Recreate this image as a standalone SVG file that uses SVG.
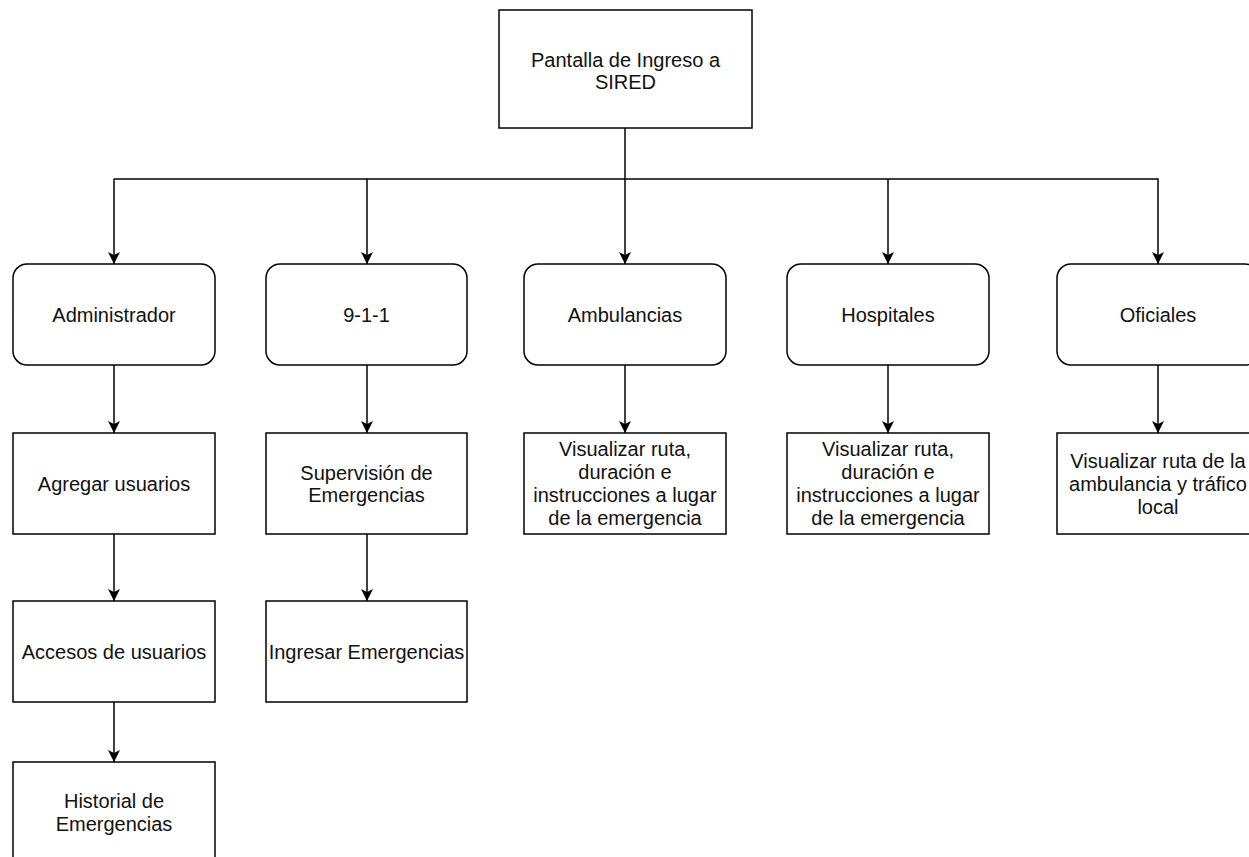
<svg xmlns="http://www.w3.org/2000/svg" width="1249" height="857" viewBox="0 0 1249 857">
<style>
.box{fill:#fff;stroke:#000;stroke-width:1.5}
.t{font-family:"Liberation Sans",Arial,sans-serif;font-size:20px;fill:#111;text-anchor:middle}
.e{fill:none;stroke:#000;stroke-width:1.5}
</style>
<defs>
<marker id="arr" viewBox="0 0 10 10" refX="10" refY="5" markerWidth="12" markerHeight="12" markerUnits="userSpaceOnUse" orient="auto">
<path d="M0,0 L10,5 L0,10 L2.5,5 z" fill="#000"/>
</marker>
</defs>
<rect width="1249" height="857" fill="#fff"/>
<g id="connectors">
<path class="e" d="M625,128 V264" marker-end="url(#arr)"/>
<path class="e" d="M114,179 H1158 V264" marker-end="url(#arr)"/>
<path class="e" d="M114,179 V264" marker-end="url(#arr)"/>
<path class="e" d="M367,179 V264" marker-end="url(#arr)"/>
<path class="e" d="M888,179 V264" marker-end="url(#arr)"/>
<path class="e" d="M114,365 V433" marker-end="url(#arr)"/>
<path class="e" d="M367,365 V433" marker-end="url(#arr)"/>
<path class="e" d="M625,365 V433" marker-end="url(#arr)"/>
<path class="e" d="M888,365 V433" marker-end="url(#arr)"/>
<path class="e" d="M1158,365 V433" marker-end="url(#arr)"/>
<path class="e" d="M114,534 V601" marker-end="url(#arr)"/>
<path class="e" d="M367,534 V601" marker-end="url(#arr)"/>
<path class="e" d="M114,702 V762" marker-end="url(#arr)"/>
</g>
<g id="n-pantalla">
<rect class="box" x="499" y="10" width="253" height="118"/>
<text class="t" x="625.5" y="66.5">Pantalla de Ingreso a</text>
<text class="t" x="625.5" y="88.5">SIRED</text>
</g>
<g id="n-admin">
<rect class="box" x="13" y="264" width="202" height="101" rx="14"/>
<text class="t" x="114" y="322">Administrador</text>
</g>
<g id="n-911">
<rect class="box" x="266" y="264" width="201" height="101" rx="14"/>
<text class="t" x="366.5" y="322">9-1-1</text>
</g>
<g id="n-ambulancias">
<rect class="box" x="524" y="264" width="202" height="101" rx="14"/>
<text class="t" x="625" y="322">Ambulancias</text>
</g>
<g id="n-hospitales">
<rect class="box" x="787" y="264" width="202" height="101" rx="14"/>
<text class="t" x="888" y="322">Hospitales</text>
</g>
<g id="n-oficiales">
<rect class="box" x="1057" y="264" width="202" height="101" rx="14"/>
<text class="t" x="1158" y="322">Oficiales</text>
</g>
<g id="n-agregar">
<rect class="box" x="13" y="433" width="202" height="101"/>
<text class="t" x="114" y="491">Agregar usuarios</text>
</g>
<g id="n-supervision">
<rect class="box" x="266" y="433" width="201" height="101"/>
<text class="t" x="366.5" y="479.5">Supervisión de</text>
<text class="t" x="366.5" y="501.5">Emergencias</text>
</g>
<g id="n-vis-amb">
<rect class="box" x="524" y="433" width="202" height="101"/>
<text class="t" x="625" y="456">Visualizar ruta,</text>
<text class="t" x="625" y="479">duración e</text>
<text class="t" x="625" y="502">instrucciones a lugar</text>
<text class="t" x="625" y="525">de la emergencia</text>
</g>
<g id="n-vis-hosp">
<rect class="box" x="787" y="433" width="202" height="101"/>
<text class="t" x="888" y="456">Visualizar ruta,</text>
<text class="t" x="888" y="479">duración e</text>
<text class="t" x="888" y="502">instrucciones a lugar</text>
<text class="t" x="888" y="525">de la emergencia</text>
</g>
<g id="n-vis-of">
<rect class="box" x="1057" y="433" width="202" height="101"/>
<text class="t" x="1158" y="468">Visualizar ruta de la</text>
<text class="t" x="1158" y="491">ambulancia y tráfico</text>
<text class="t" x="1158" y="514">local</text>
</g>
<g id="n-accesos">
<rect class="box" x="13" y="601" width="202" height="101"/>
<text class="t" x="114" y="659">Accesos de usuarios</text>
</g>
<g id="n-ingresar">
<rect class="box" x="266" y="601" width="201" height="101"/>
<text class="t" x="366.5" y="659">Ingresar Emergencias</text>
</g>
<g id="n-historial">
<rect class="box" x="13" y="762" width="202" height="120"/>
<text class="t" x="114" y="808">Historial de</text>
<text class="t" x="114" y="831">Emergencias</text>
</g>
</svg>
